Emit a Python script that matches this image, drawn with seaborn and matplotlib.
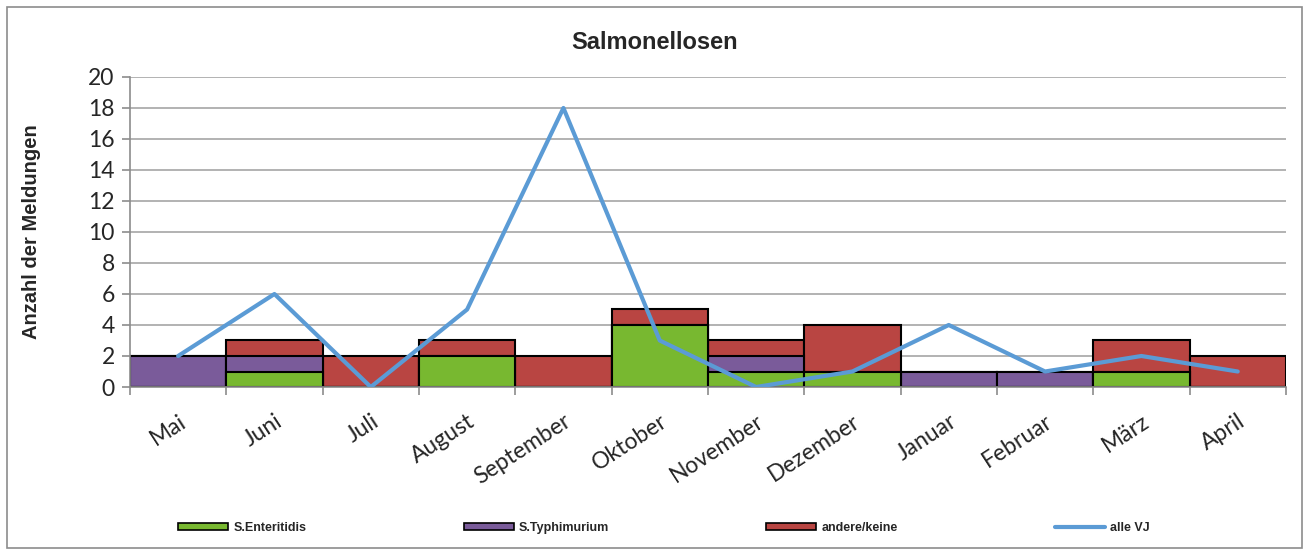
import matplotlib
matplotlib.use('Agg')
import matplotlib.pyplot as plt
import seaborn as sns
import numpy as np
from matplotlib.patches import Rectangle, Patch
from matplotlib.lines import Line2D
from matplotlib.ticker import FixedLocator

# Data
months = ['Mai', 'Juni', 'Juli', 'August', 'September', 'Oktober',
          'November', 'Dezember', 'Januar', 'Februar', 'März', 'April']
enteritidis = [0, 1, 0, 2, 0, 4, 1, 1, 0, 0, 1, 0]
typhimurium = [2, 1, 0, 0, 0, 0, 1, 0, 1, 1, 0, 0]
andere = [0, 1, 2, 1, 2, 1, 1, 3, 0, 0, 2, 2]
alle_vj = [2, 6, 0, 5, 18, 3, 0, 1, 4, 1, 2, 1]

green = '#78b830'
purple = '#7a5b9a'
red = '#b94542'
blue = '#5b9bd5'

sns.set_theme(style='white')
plt.rcParams['font.family'] = ['Liberation Sans', 'DejaVu Sans']

fig = plt.figure(figsize=(13.1, 5.55), dpi=100)
ax = fig.add_axes([0.0992, 0.3027, 0.8824, 0.5586])

# stacked bars: draw cumulative totals from the top layer down
e = np.array(enteritidis)
t = np.array(typhimurium)
a = np.array(andere)
for vals, col in [(e + t + a, red), (e + t, purple), (e, green)]:
    sns.barplot(x=months, y=vals, color=col, width=1.0, edgecolor='black',
                linewidth=1.5, saturation=1, ax=ax, zorder=2)

sns.pointplot(x=months, y=alle_vj, color=blue, marker='', linestyle='-',
              linewidth=3, errorbar=None, ax=ax, zorder=3)

ax.set_xlim(-0.5, len(months) - 0.5)
ax.set_ylim(0, 20)
ax.set_yticks(range(0, 21, 2))
ax.yaxis.grid(True, color='#a6a6a6', linewidth=1.2, zorder=0)
ax.set_axisbelow(True)

for side in ['top', 'right']:
    ax.spines[side].set_visible(False)
for side in ['left', 'bottom']:
    ax.spines[side].set_color('#8c8c8c')
    ax.spines[side].set_linewidth(1.2)

ax.tick_params(axis='y', which='major', direction='out', length=6, width=1.2,
               color='#8c8c8c', left=True, labelsize=16.5, pad=5)
ax.tick_params(axis='x', which='major', length=0, labelsize=16.5, pad=17)
ax.xaxis.set_minor_locator(FixedLocator(np.arange(-0.5, len(months), 1.0)))
ax.tick_params(axis='x', which='minor', direction='out', length=6, width=1.2,
               color='#8c8c8c', bottom=True)
for lab in ax.get_yticklabels():
    lab.set_family(['Lato', 'DejaVu Sans'])
for lab in ax.get_xticklabels():
    lab.set_family(['Lato', 'DejaVu Sans'])
    lab.set_rotation(33)
    lab.set_ha('right')
    lab.set_rotation_mode('anchor')

ax.set_xlabel('')
ax.set_ylabel('Anzahl der Meldungen', fontsize=14.5, fontweight='bold')
ax.yaxis.set_label_coords(-0.077, 0.5)
fig.text(0.5, 0.924, 'Salmonellosen', fontsize=17, fontweight='bold',
         ha='center', va='center')

handles = [
    Patch(facecolor=green, edgecolor='black', linewidth=1.2),
    Patch(facecolor=purple, edgecolor='black', linewidth=1.2),
    Patch(facecolor=red, edgecolor='black', linewidth=1.2),
    Line2D([0], [0], color=blue, linewidth=3),
]
labels = ['S.Enteritidis', 'S.Typhimurium', 'andere/keine', 'alle VJ']
fig.legend(handles, labels, loc='center left', bbox_to_anchor=(0.136, 0.049),
           ncol=4, frameon=False, borderpad=0, borderaxespad=0,
           handlelength=4.0, handleheight=0.5, handletextpad=0.4,
           columnspacing=12.6, prop={'size': 9, 'weight': 'bold'})

# outer chart border
fig.patches.append(Rectangle((0.005, 0.012), 0.989, 0.975, transform=fig.transFigure,
                             fill=False, edgecolor='#8c8c8c', linewidth=1.2))

fig.savefig('out.png', dpi=100)
